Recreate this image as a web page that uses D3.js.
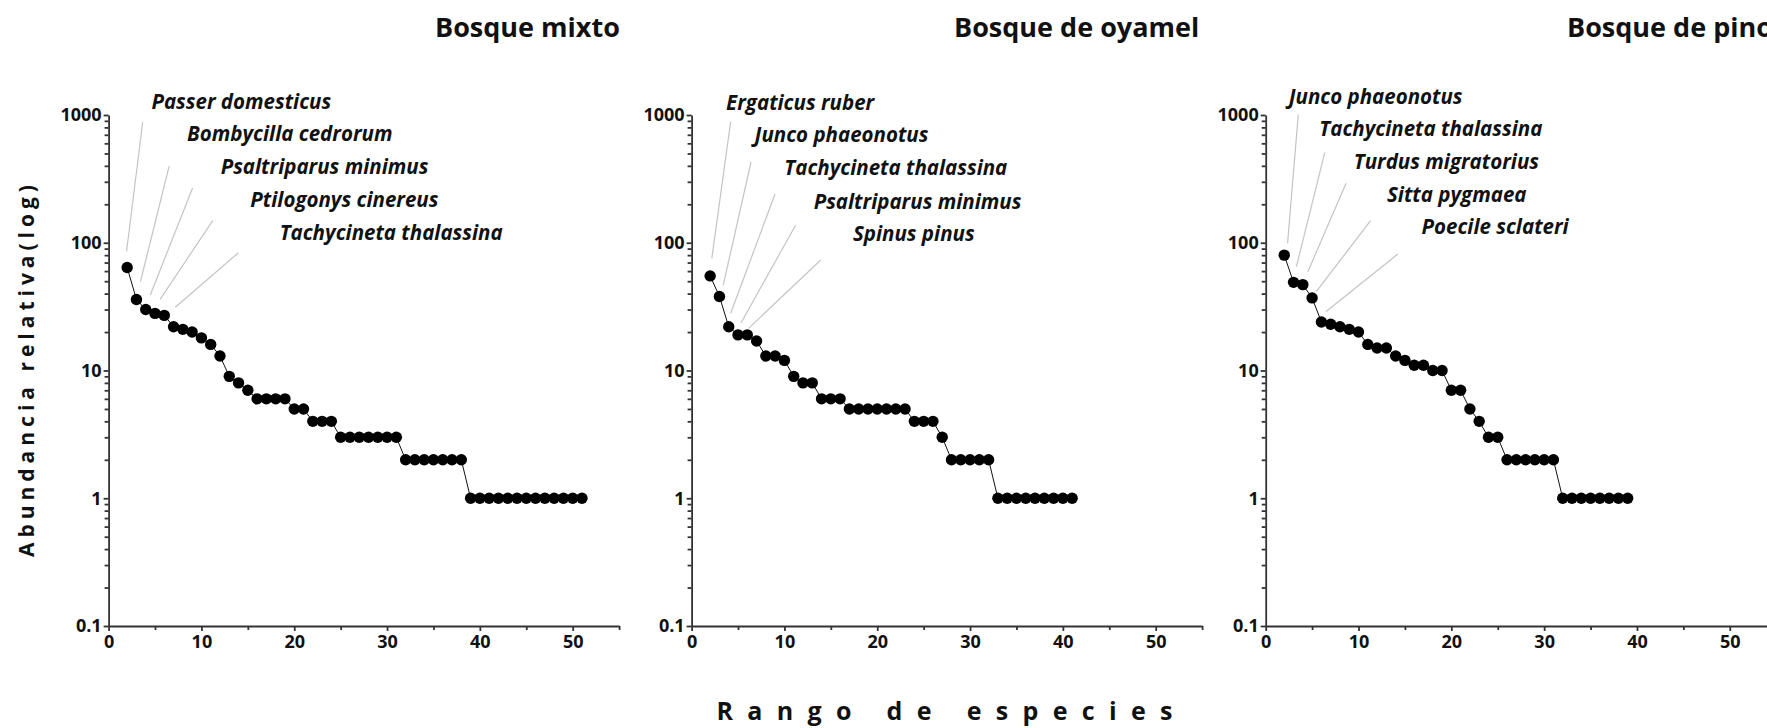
<!DOCTYPE html>
<html>
<head>
<meta charset="utf-8">
<script src="https://cdn.jsdelivr.net/npm/d3@7"></script>
<style>
  body { margin: 0; background: #fff; }
  text { font-family: "Open Sans", Lato, sans-serif; fill: #111; }
</style>
</head>
<body>
<div id="chart"></div>
<script>
var svgWidth = 1767;
var svgHeight = 728;

// panel titles
var panelTitles = ["Bosque mixto", "Bosque de oyamel", "Bosque de pino"];

// abundance per rank (ranks start at 2 in the original figure)
var firstRank = 2;
var mixtoAbund = [64, 36, 30, 28, 27, 22, 21, 20, 18, 16, 13, 9, 8, 7, 6, 6, 6, 6, 5, 5,
  4, 4, 4, 3, 3, 3, 3, 3, 3, 3, 2, 2, 2, 2, 2, 2, 2,
  1, 1, 1, 1, 1, 1, 1, 1, 1, 1, 1, 1, 1];
var oyamelAbund = [55, 38, 22, 19, 19, 17, 13, 13, 12, 9, 8, 8, 6, 6, 6,
  5, 5, 5, 5, 5, 5, 5, 4, 4, 4, 3, 2, 2, 2, 2, 2,
  1, 1, 1, 1, 1, 1, 1, 1, 1];
var pinoAbund = [80, 49, 47, 37, 24, 23, 22, 21, 20, 16, 15, 15, 13, 12, 11, 11, 10, 10,
  7, 7, 5, 4, 3, 3, 2, 2, 2, 2, 2, 2,
  1, 1, 1, 1, 1, 1, 1, 1];

// labelled species (top five of each forest)
var mixtoSpecies = ["Passer domesticus", "Bombycilla cedrorum", "Psaltriparus minimus",
  "Ptilogonys cinereus", "Tachycineta thalassina"];
var oyamelSpecies = ["Ergaticus ruber", "Junco phaeonotus", "Tachycineta thalassina",
  "Psaltriparus minimus", "Spinus pinus"];
var pinoSpecies = ["Junco phaeonotus", "Tachycineta thalassina", "Turdus migratorius",
  "Sitta pygmaea", "Poecile sclateri"];

// label anchors in data units: [rank, log10 abundance]
var mixtoLabelAt = [[4.61, 3.104], [8.45, 2.852], [12.07, 2.591], [15.27, 2.335], [18.43, 2.079]];
var oyamelLabelAt = [[3.72, 3.096], [6.79, 2.843], [9.99, 2.583], [13.15, 2.321], [17.38, 2.069]];
var pinoLabelAt = [[2.48, 3.143], [5.78, 2.888], [9.49, 2.634], [13.07, 2.379], [16.79, 2.126]];

// leader lines in data units: [rank0, log0, rank1, log1]
var mixtoLeaders = [[1.93, 1.930, 3.67, 2.943], [3.43, 1.695, 6.53, 2.601], [4.49, 1.591, 9.05, 2.429],
  [5.55, 1.557, 11.22, 2.173], [7.18, 1.495, 13.99, 1.922]];
var oyamelLeaders = [[2.18, 1.878, 4.21, 2.948], [3.41, 1.669, 6.41, 2.634], [4.21, 1.448, 8.99, 2.382],
  [5.33, 1.374, 11.22, 2.139], [6.14, 1.330, 13.91, 1.865]];
var pinoLeaders = [[2.36, 1.996, 3.51, 3.005], [3.31, 1.813, 6.36, 2.705], [4.54, 1.773, 8.66, 2.465],
  [5.45, 1.617, 11.3, 2.173], [6.48, 1.460, 14.24, 1.912]];

// axis ticks
var xTicks = [0, 10, 20, 30, 40, 50];
var xMinorTicks = [5, 15, 25, 35, 45, 55];
var yTicks = [0.1, 1, 10, 100, 1000];

var panels = [
  { title: panelTitles[0], abund: mixtoAbund, species: mixtoSpecies, labelAt: mixtoLabelAt, leaders: mixtoLeaders },
  { title: panelTitles[1], abund: oyamelAbund, species: oyamelSpecies, labelAt: oyamelLabelAt, leaders: oyamelLeaders },
  { title: panelTitles[2], abund: pinoAbund, species: pinoSpecies, labelAt: pinoLabelAt, leaders: pinoLeaders }
];

// layout
var panelLeft = [108.6, 691.6, 1265.7];
var titleLeft = [435, 954, 1567];
var plotWidth = 510.5;
var plotTop = 115;
var plotBottom = 626;

var svg = d3.select("#chart")
  .append("svg")
  .attr("width", svgWidth)
  .attr("height", svgHeight);

var yScale = d3.scaleLog()
  .domain([0.1, 1000])
  .range([plotBottom, plotTop]);

var yMinor = [];
[0.1, 1, 10, 100].forEach(function(dec) {
  for (var m = 2; m <= 9; m++) yMinor.push(dec * m);
});

panels.forEach(function(p, i) {
  var g = svg.append("g")
    .attr("transform", `translate(${panelLeft[i]}, 0)`);

  var xScale = d3.scaleLinear()
    .domain([0, 55])
    .range([0, plotWidth]);

  var pts = p.abund.map(function(v, j) { return { rank: j + firstRank, value: v }; });

  // title
  svg.append("text")
    .attr("x", titleLeft[i])
    .attr("y", 37)
    .attr("font-size", "27px")
    .attr("font-weight", "bold")
    .text(p.title);

  // minor ticks
  g.append("g")
    .attr("transform", `translate(0, ${plotBottom})`)
    .call(d3.axisBottom(xScale).tickValues(xMinorTicks).tickSize(4).tickFormat(""))
    .call(function(a) { a.select(".domain").remove(); });
  g.append("g")
    .call(d3.axisLeft(yScale).tickValues(yMinor).tickSize(4).tickFormat(""))
    .call(function(a) { a.select(".domain").remove(); });

  // x axis
  var xAxis = g.append("g")
    .attr("transform", `translate(0, ${plotBottom})`)
    .call(d3.axisBottom(xScale).tickValues(xTicks).tickSize(5).tickSizeOuter(0).tickPadding(4));

  // y axis
  var yAxis = g.append("g")
    .call(d3.axisLeft(yScale).tickValues(yTicks).tickFormat(function(d) { return String(d); })
      .tickSize(5).tickSizeOuter(0).tickPadding(2));

  [xAxis, yAxis].forEach(function(a) {
    a.selectAll("text")
      .attr("font-size", "18px")
      .attr("font-weight", "bold")
      .attr("fill", "#111")
      .style("font-family", "'Open Sans', sans-serif");
  });

  g.selectAll(".domain, .tick line")
    .attr("stroke", "#333")
    .attr("stroke-width", 1.8);

  // leader lines
  g.selectAll(".leader")
    .data(p.leaders)
    .enter()
    .append("line")
    .attr("class", "leader")
    .attr("x1", d => xScale(d[0]))
    .attr("y1", d => yScale(Math.pow(10, d[1])))
    .attr("x2", d => xScale(d[2]))
    .attr("y2", d => yScale(Math.pow(10, d[3])))
    .attr("stroke", "#c4c4c4")
    .attr("stroke-width", 1.2);

  // species labels
  g.selectAll(".sp")
    .data(p.species)
    .enter()
    .append("text")
    .attr("class", "sp")
    .attr("x", (d, j) => xScale(p.labelAt[j][0]))
    .attr("y", (d, j) => yScale(Math.pow(10, p.labelAt[j][1])))
    .attr("dy", "0.35em")
    .attr("font-size", "20.5px")
    .attr("font-weight", "bold")
    .attr("font-style", "italic")
    .text(d => d);

  // line connecting the points
  var line = d3.line()
    .x(d => xScale(d.rank))
    .y(d => yScale(d.value));

  g.append("path")
    .datum(pts)
    .attr("d", line)
    .attr("fill", "none")
    .attr("stroke", "#111")
    .attr("stroke-width", 1);

  // points
  g.selectAll("circle")
    .data(pts)
    .enter()
    .append("circle")
    .attr("cx", d => xScale(d.rank))
    .attr("cy", d => yScale(d.value))
    .attr("r", 5.7)
    .attr("fill", "#000");
});

// y axis title
svg.append("text")
  .attr("transform", "translate(34, 371) rotate(-90)")
  .attr("text-anchor", "middle")
  .attr("font-size", "21px")
  .attr("font-weight", "bold")
  .attr("textLength", 372)
  .attr("lengthAdjust", "spacing")
  .text("Abundancia relativa(log)");

// x axis title
svg.append("text")
  .attr("x", 716.5)
  .attr("y", 720)
  .attr("font-size", "25px")
  .attr("font-weight", "bold")
  .attr("textLength", 456)
  .attr("lengthAdjust", "spacing")
  .text("Rango de especies");
</script>
</body>
</html>
